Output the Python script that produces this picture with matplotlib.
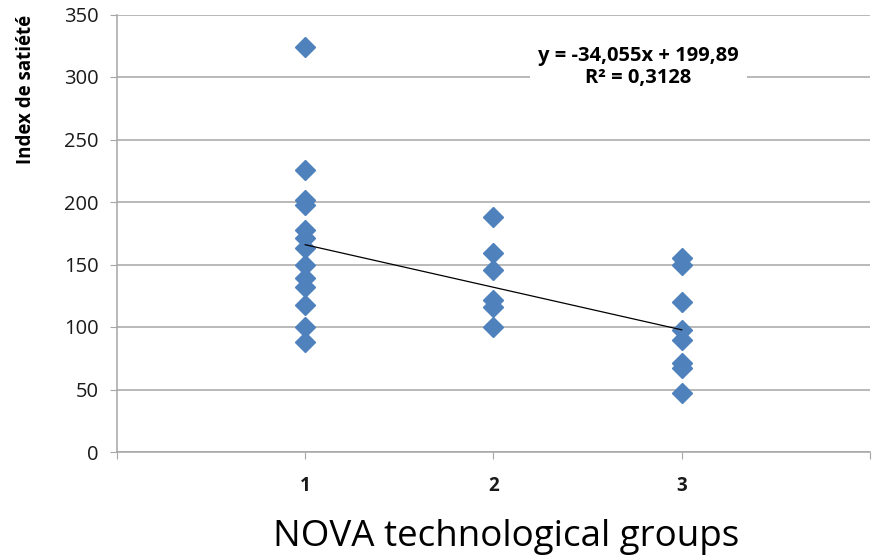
import numpy as np
import matplotlib
matplotlib.use("Agg")
import matplotlib.pyplot as plt

plt.rcParams['font.family'] = ['Open Sans', 'DejaVu Sans']

# satiety index values per NOVA group
group1 = [324, 226, 202, 198, 178, 171, 163, 150, 139, 132, 118, 100, 88]
group2 = [188, 159, 146, 122, 116, 100]
group3 = [155, 150, 120, 98, 90, 71, 67, 47]
groups = [1, 2, 3]

# trend line as printed on the chart
slope = -34.055
intercept = 199.89
eq_text = "y = -34,055x + 199,89\nR² = 0,3128"

x_vals = np.concatenate([np.full(len(g), k) for g, k in zip([group1, group2, group3], groups)])
y_vals = np.concatenate([group1, group2, group3])

fig = plt.figure(figsize=(8.79, 5.57), dpi=100)
ax = fig.add_axes([117 / 879, 1 - 452 / 557, 753 / 879, 437.5 / 557])

grid_col = '#A6A6A6'
ax.set_xlim(0, 4)
ax.set_ylim(0, 350)
ax.set_yticks(np.arange(0, 351, 50))
ax.set_xticks([0, 1, 2, 3, 4])
ax.set_xticklabels(['', '1', '2', '3', ''], fontweight='bold', fontsize=13.5)
ax.tick_params(axis='y', labelsize=14.5, length=5, color=grid_col, pad=8, labelcolor='#1a1a1a')
ax.tick_params(axis='x', length=5, color=grid_col, pad=12, labelcolor='#1a1a1a')
ax.grid(axis='y', color=grid_col, linewidth=1.1)
ax.set_axisbelow(True)
for s in ['top', 'right']:
    ax.spines[s].set_visible(False)
for s in ['left', 'bottom']:
    ax.spines[s].set_color(grid_col)
    ax.spines[s].set_linewidth(1.1)

ax.plot(x_vals, y_vals, linestyle='none', marker='D', markersize=10.5,
        color='#4F81BD', markeredgecolor='#4F81BD', zorder=3)

tx = np.array([1, 3])
ax.plot(tx, slope * tx + intercept, color='black', linewidth=0.9, zorder=4)

ax.text(2.77, 308, eq_text, ha='center', va='center', fontsize=14.5, fontweight='bold',
        linespacing=1.15, bbox=dict(facecolor='white', edgecolor='none', pad=6), zorder=5)

fig.text(26 / 879, 1 - 89 / 557, 'Index de satiété', rotation=90, ha='center', va='center',
         fontsize=13.5, fontweight='bold')
fig.text(506 / 879, 1 - 537 / 557, 'NOVA technological groups', ha='center', va='center',
         fontsize=26.5)

fig.savefig('out.png', dpi=100)
